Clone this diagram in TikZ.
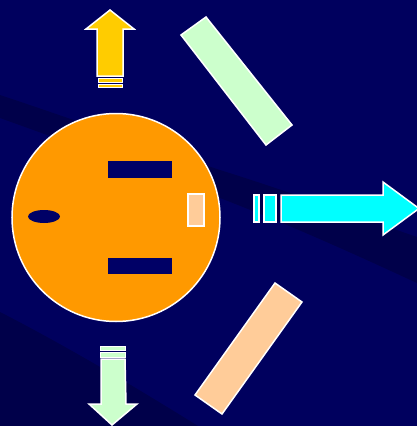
\documentclass[tikz,border=0pt]{standalone}
\usetikzlibrary{shapes.geometric}
\definecolor{bgnavy}{RGB}{0,0,94}
\definecolor{bgdark}{RGB}{0,0,74}
\definecolor{plugorange}{RGB}{255,153,0}
\definecolor{slotnavy}{RGB}{0,0,102}
\definecolor{peach}{RGB}{255,204,153}
\definecolor{mint}{RGB}{204,255,204}
\definecolor{gold}{RGB}{255,204,0}
\definecolor{aqua}{RGB}{0,255,255}
\tikzset{
  outlined/.style={draw=white, line width=1.5pt, line join=miter},
  slot/.style={fill=slotnavy},
}
\begin{document}
\begin{tikzpicture}[x=1pt,y=-1pt]
\useasboundingbox (0,0) rectangle (417,426);
\fill[bgnavy] (0,0) rectangle (417,426);
% subtle bands
\fill[bgdark] (0,95) .. controls (75,120) and (150,147) .. (220,170)
  .. controls (290,192) and (350,214) .. (417,237)
  -- (417,283) .. controls (350,252) and (290,225) .. (220,198)
  .. controls (150,172) and (75,145) .. (0,118) -- cycle;
\fill[bgdark] (0,312) .. controls (70,348) and (140,390) .. (198,426) -- (0,426) -- cycle;
% plug face
\draw[outlined, fill=plugorange] (116,217.5) circle (104);
\fill[slot] (108,161) rectangle (172,178);
\fill[slot] (108,258) rectangle (172,274);
\fill[slot] (44,216.5) ellipse (16 and 6.5);
\draw[outlined, fill=peach] (188,194) rectangle (204,226);
% cyan arrow to the right
\draw[outlined, fill=aqua] (254,195) rectangle (259,222);
\draw[outlined, fill=aqua] (264,195) rectangle (276,222);
\draw[outlined, fill=aqua] (281,195) -- (383,195) -- (383,182) -- (419,208.5)
  -- (383,235) -- (383,222) -- (281,222) -- cycle;
% yellow arrow up
\draw[outlined, fill=gold] (97,76) -- (97,29) -- (86,29) -- (110,10) -- (134,29)
  -- (123,29) -- (123,76) -- cycle;
\draw[draw=white, line width=1pt, fill=gold] (98,78.5) rectangle (122,82);
\draw[draw=white, line width=1pt, fill=gold] (98,84.5) rectangle (122,87);
% mint arrow down
\draw[draw=white, line width=1pt, fill=mint] (100,346.5) rectangle (125,350.5);
\draw[draw=white, line width=1pt, fill=mint] (100,352.5) rectangle (125,357);
\draw[outlined, fill=mint] (101,359) -- (125,359) -- (126,404) -- (137,404)
  -- (112,425) -- (89,404) -- (101,404) -- cycle;
% rotated bars
\draw[outlined, fill=mint] (181,35) -- (206,17) -- (292,125) -- (266,145) -- cycle;
\draw[outlined, fill=peach] (275,283) -- (302,302) -- (222,414) -- (195,395) -- cycle;
\end{tikzpicture}
\end{document}
